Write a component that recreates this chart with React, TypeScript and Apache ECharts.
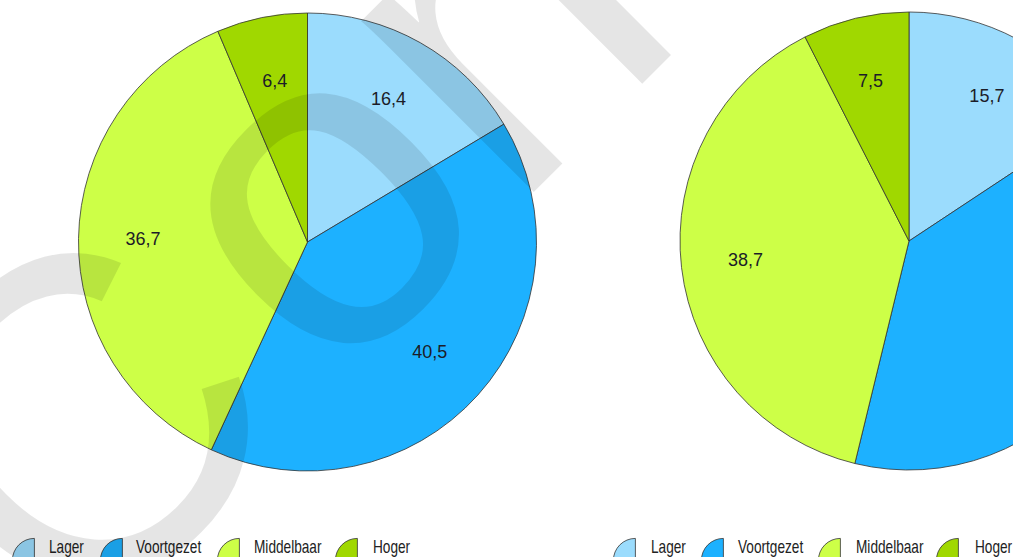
import React, { useEffect, useRef } from "react";
import * as echarts from "echarts";

const categories = ["Lager", "Voortgezet", "Middelbaar", "Hoger"];
const leftValues = [16.4, 40.5, 36.7, 6.4];
const rightValues = [15.7, 38.1, 38.7, 7.5];
const colors = ["#9BDCFD", "#1DB1FF", "#CDFF47", "#A0D800"];
const watermarkFirst = "C";
const watermarkRest = "oncept";

const fmt = (v: number) => v.toFixed(1).replace(".", ",");

// quarter-disc legend icon
const ICON = "path://M22,0 A22,22 0 0 0 0,22 L22,22 Z M31,-5 L31,-5";
const legendLefts = [12, 100, 217, 335];
const legendTextLefts = [49, 136, 254, 373];
const iconOffset = 601;
const textOffset = 602;

export default function App() {
  const ref = useRef<HTMLDivElement>(null);
  useEffect(() => {
    if (!ref.current) return;
    const chart = echarts.init(ref.current, null, { renderer: "svg" });
    const mkData = (vals: number[]) =>
      categories.map((c, i) => ({ name: c, value: vals[i], itemStyle: { color: colors[i] } }));
    const basePie = (center: [number, number], vals: number[]) => ({
      type: "pie",
      center,
      radius: 229,
      startAngle: 90,
      clockwise: true,
      label: { show: false },
      labelLine: { show: false },
      itemStyle: { borderColor: "#333", borderWidth: 0.8 },
      emphasis: { disabled: true },
      data: mkData(vals),
    });
    const labelPie = (center: [number, number], vals: number[]) => ({
      type: "pie",
      center,
      radius: [94, 229],
      startAngle: 90,
      clockwise: true,
      silent: true,
      legendHoverLink: false,
      itemStyle: { color: "transparent", borderWidth: 0 },
      label: {
        show: true,
        position: "inside",
        formatter: (p: any) => fmt(p.value),
        color: "#1c1c28",
        fontSize: 18,
        fontFamily: "'Liberation Sans', Arial, sans-serif",
      },
      labelLine: { show: false },
      emphasis: { disabled: true },
      data: categories.map((c, i) => ({ name: c, value: vals[i] })),
    });
    const legendItem = (left: number, i: number) => ({
      left,
      top: 533,
      padding: 0,
      orient: "horizontal",
      itemWidth: 31,
      itemHeight: 27,
      icon: ICON,
      itemStyle: { borderColor: "#333", borderWidth: 0.8 },
      formatter: () => "",
      selectedMode: false,
      data: [{ name: categories[i], itemStyle: { color: colors[i] } }],
    });
    const legends: any[] = [];
    legendLefts.forEach((l, i) => legends.push(legendItem(l, i)));
    legendLefts.forEach((l, i) => legends.push(legendItem(l + iconOffset, i)));

    // legend texts (condensed look via horizontal scale)
    const legendTexts: any[] = [];
    [0, textOffset].forEach((off) => {
      categories.forEach((c, i) => {
        legendTexts.push({
          type: "text",
          x: legendTextLefts[i] + off,
          y: 546.5,
          scaleX: 0.78,
          scaleY: 1,
          silent: true,
          z: 50,
          style: {
            text: c,
            fontSize: 17.5,
            fontFamily: "'Liberation Sans', Arial, sans-serif",
            fill: "#222",
            textAlign: "left",
            textVerticalAlign: "middle",
            align: "left",
            verticalAlign: "middle",
          },
        });
      });
    });

    const wmStyle = {
      fontSize: 460,
      fontFamily: "'Liberation Sans', Arial, sans-serif",
      fill: "rgba(0,0,0,0.1)",
      textAlign: "left",
      textVerticalAlign: "middle",
      align: "left",
      verticalAlign: "middle",
    };
    chart.setOption({
      animation: false,
      backgroundColor: "#ffffff",
      legend: legends,
      series: [
        basePie([307.5, 242], leftValues),
        basePie([909, 241], rightValues),
        labelPie([307.5, 242], leftValues),
        labelPie([909, 241], rightValues),
      ],
      graphic: [
        ...legendTexts,
        {
          type: "group",
          x: -20,
          y: 526,
          rotation: Math.PI / 4,
          silent: true,
          z: 100,
          children: [
            {
              type: "text",
              x: -26,
              y: -3,
              silent: true,
              z: 100,
              style: { ...wmStyle, text: watermarkFirst },
            },
            {
              type: "text",
              x: 340,
              y: -4,
              silent: true,
              z: 100,
              style: { ...wmStyle, text: watermarkRest },
            },
          ],
        },
      ],
    });
    return () => chart.dispose();
  }, []);
  return (
    <div
      ref={ref}
      style={{ position: "fixed", left: 0, top: 0, width: 1013, height: 557 }}
    />
  );
}
